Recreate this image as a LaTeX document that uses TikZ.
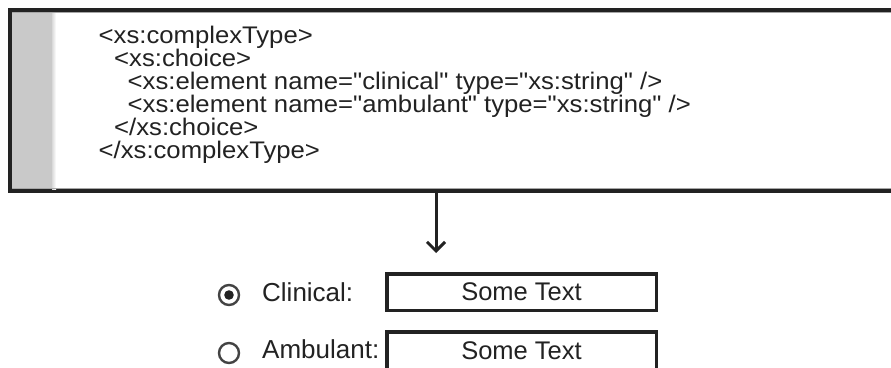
\documentclass[tikz,border=0pt]{standalone}
\usepackage{fontspec}
\setmainfont{Liberation Sans}
\newfontfamily\codefont[FakeStretch=1.07]{Liberation Sans}
\usetikzlibrary{arrows.meta}
\definecolor{ink}{HTML}{222222}
\definecolor{stripgray}{HTML}{C9C9C9}
\tikzset{
  codeline/.style={anchor=base west, inner sep=0pt, text=ink,
    font=\codefont\fontsize{24}{24}\selectfont},
  formlabel/.style={anchor=base west, inner sep=0pt, text=ink,
    font=\fontsize{26}{26}\selectfont},
  field/.style={draw=ink, line width=3.5pt, minimum width=269.5pt,
    inner sep=0pt, text=ink, font=\fontsize{25.5}{25.5}\selectfont},
  radio/.style={circle, draw=ink!85, line width=2.4pt, minimum size=20pt,
    inner sep=0pt},
}
\begin{document}
\begin{tikzpicture}[x=1pt,y=-1pt]
  \useasboundingbox (0,0) rectangle (891,367);
  \clip (0,0) rectangle (891,367);
  \fill[white] (0,0) rectangle (891,367);

  % schema listing
  \node[draw=ink, fill=white, line width=4pt, minimum width=890pt,
        minimum height=181pt, inner sep=0pt] (code) at (455,100.5) {};
  \fill[stripgray] (12,12) rectangle (52,189);
  \shade[left color=stripgray!70, right color=white] (52,12) rectangle (56,189);
  \draw[black!35, line width=1pt] (12,12.5) -- (891,12.5);
  \draw[black!35, line width=1pt] (12,188.5) -- (891,188.5);

  \node[codeline] (l1) at (98.5,43.5) {<xs:complexType>};
  \node[codeline] (l2) at (114,66.5) {<xs:choice>};
  \node[codeline] (l3) at (127.5,89.5) {<xs:element name="clinical" type="xs:string" />};
  \node[codeline] (l4) at (127.5,112.5) {<xs:element name="ambulant" type="xs:string" />};
  \node[codeline] (l5) at (114,135.5) {</xs:choice>};
  \node[codeline] (l6) at (98.5,158.5) {</xs:complexType>};

  % transformation arrow
  \coordinate (tip) at (436,253);
  \draw[ink, line width=3pt, -{Straight Barb[length=9pt,width=18pt]}]
    (code.south -| tip) -- (tip);

  % rendered form
  \node[radio] (r1) at (229,295) {};
  \fill[ink] (r1.center) circle (4.8pt);
  \node[radio] (r2) at (229,353) {};

  \node[formlabel] (t1) at (262,301.5) {Clinical:};
  \node[formlabel] (t2) at (262,358.5) {Ambulant:};

  \node[field, minimum height=36.5pt] (f1) at (521.5,292) {Some Text};
  \node[field, anchor=north, text height=28pt, text depth=22pt]
    (f2) at (521.5,330) {Some Text};
\end{tikzpicture}
\end{document}
